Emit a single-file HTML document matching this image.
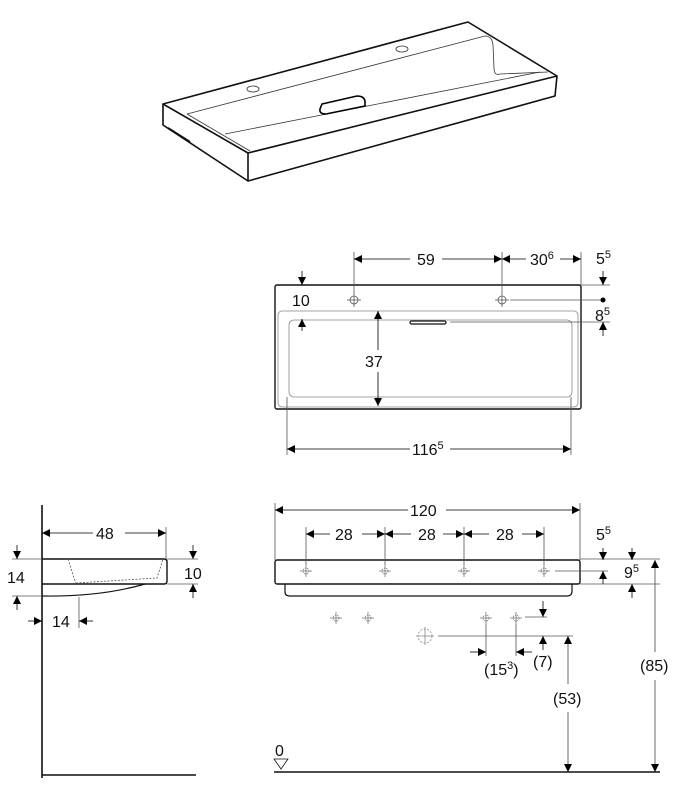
<!DOCTYPE html>
<html><head><meta charset="utf-8"><style>
html,body{margin:0;padding:0;background:#fff;}
svg{display:block;}
text{font-family:"Liberation Sans",Arial,sans-serif;font-size:16px;fill:#111;}
.s{font-size:11px;}
</style></head><body>
<svg width="700" height="800" viewBox="0 0 700 800" xmlns="http://www.w3.org/2000/svg">
<defs>
<marker id="a" viewBox="0 0 10 10" refX="10" refY="5" markerWidth="10" markerHeight="8" markerUnits="userSpaceOnUse" orient="auto-start-reverse"><path d="M0,0L10,5L0,10z" fill="#000"/></marker>
<g id="cr" stroke="#777" stroke-width="0.8" fill="none"><path d="M-6,0H6M0,-6V6"/><circle r="3" stroke-dasharray="1.5,1"/></g>
</defs>

<!-- perspective view -->
<g stroke="#111" fill="none" stroke-width="1.6" stroke-linejoin="round">
<polygon points="163,104 468,22 557,76 248,153"/>
<path d="M163,104V125L248,181V153M248,181L555,96L557,76"/>
<path d="M168,128L190,142" stroke-width="2"/>
</g>
<g stroke="#333" fill="none" stroke-width="0.8">
<path d="M187,114L485,36Q492,36 493,45L494,68Q494,76 500,74L548,72"/>
<path d="M187,114L250,151"/>
<path d="M225,134L540,72"/>
<ellipse cx="253" cy="89" rx="6" ry="3"/><ellipse cx="402" cy="49" rx="6" ry="3"/>
<path d="M322,104L357,96Q364,96 365,101L365,106L326,114Q319,114 320,109Z" stroke="#000" stroke-width="1.6"/>
</g>

<!-- top view -->
<g fill="none">
<rect x="275" y="285" width="306" height="124" rx="2" stroke="#111" stroke-width="1.4"/>
<rect x="278" y="311" width="300" height="96" rx="4" stroke="#888" stroke-width="0.8"/>
<rect x="289" y="320" width="283" height="77" rx="5" stroke="#888" stroke-width="0.8"/>
<rect x="410" y="321" width="36" height="3" rx="1.5" stroke="#111" stroke-width="1.2"/>
<g stroke="#555" stroke-width="0.8">
<circle cx="354" cy="300" r="4"/><circle cx="502" cy="300" r="4"/>
<path d="M347,300H361M354,293V307M495,300H509M502,293V307"/>
<path d="M354,293V252M502,293V252M581,285V252M510,300H603M581,285H610M450,322H610M287,397V455M571,397V455"/>
</g>
<g stroke="#000" stroke-width="0.8">
<path d="M354,259H410M442,259H502" marker-start="url(#a)" marker-end="url(#a)"/>
<path d="M502,259H526M560,259H581" marker-start="url(#a)" marker-end="url(#a)"/>
<path d="M603,271V285" marker-end="url(#a)"/>
<path d="M603,336V322" marker-end="url(#a)"/>
<path d="M302,271V285" marker-end="url(#a)"/>
<path d="M302,331V319" marker-end="url(#a)"/>
<path d="M378,311V350M378,372V406" marker-start="url(#a)" marker-end="url(#a)"/>
<path d="M287,449H410M450,449H571" marker-start="url(#a)" marker-end="url(#a)"/>
</g>
<circle cx="603" cy="300" r="2.5" fill="#000"/>
</g>
<text x="417" y="265">59</text>
<text x="530" y="265">30<tspan class="s" dy="-6">6</tspan></text>
<text x="596" y="264">5<tspan class="s" dy="-6">5</tspan></text>
<text x="595" y="321">8<tspan class="s" dy="-6">5</tspan></text>
<text x="292" y="306">10</text>
<text x="365" y="367">37</text>
<text x="412" y="455">116<tspan class="s" dy="-6">5</tspan></text>

<!-- front view -->
<g fill="none">
<rect x="275" y="560" width="305" height="24" rx="2" stroke="#111" stroke-width="1.4"/>
<path d="M285,584V592Q285,596 290,596H567Q572,596 572,591V584" stroke="#111" stroke-width="1.2"/>
<use href="#cr" x="306" y="571"/><use href="#cr" x="385" y="571"/><use href="#cr" x="464" y="571"/><use href="#cr" x="544" y="571"/>
<use href="#cr" x="336" y="618"/><use href="#cr" x="368" y="618"/><use href="#cr" x="486" y="618"/><use href="#cr" x="516" y="618"/>
<g stroke="#888" stroke-width="0.8"><path d="M416,636H434M425,627V645"/><circle cx="425" cy="636" r="7" stroke-dasharray="2,1.5"/></g>
<g stroke="#555" stroke-width="0.8">
<path d="M275,503V560M580,503V560M306,527V565M385,527V565M464,527V565M544,527V565"/>
<path d="M580,559H660M555,571H608M580,584H660M525,617H547M438,636H573M486,624V656M516,624V656"/>
</g>
<g stroke="#000" stroke-width="0.8">
<path d="M275,510H408M446,510H580" marker-start="url(#a)" marker-end="url(#a)"/>
<path d="M306,534H330M362,534H385" marker-start="url(#a)" marker-end="url(#a)"/>
<path d="M385,534H411M443,534H464" marker-start="url(#a)" marker-end="url(#a)"/>
<path d="M464,534H489M522,534H544" marker-start="url(#a)" marker-end="url(#a)"/>
<path d="M603,548V560" marker-end="url(#a)"/>
<path d="M632,548V560" marker-end="url(#a)"/>
<path d="M603,584V571" marker-end="url(#a)"/>
<path d="M632,598V584" marker-end="url(#a)"/>
<path d="M543,601V617" marker-end="url(#a)"/>
<path d="M543,650V636" marker-end="url(#a)"/>
<path d="M470,652H486" marker-end="url(#a)"/>
<path d="M532,652H516" marker-end="url(#a)"/>
<path d="M655,560V652M655,680V772" marker-start="url(#a)" marker-end="url(#a)" stroke="#444"/>
<path d="M568,636V684M568,712V772" marker-start="url(#a)" marker-end="url(#a)" stroke="#444"/>
</g>
<path d="M274,772H660" stroke="#111" stroke-width="1.6"/>
<path d="M274,759H288L281,769Z" stroke="#111" stroke-width="0.8"/>
</g>
<text x="410" y="516">120</text>
<text x="335" y="540">28</text>
<text x="418" y="540">28</text>
<text x="496" y="540">28</text>
<text x="596" y="540">5<tspan class="s" dy="-6">5</tspan></text>
<text x="624" y="578">9<tspan class="s" dy="-6">5</tspan></text>
<text x="533" y="667">(7)</text>
<text x="484" y="675">(15<tspan class="s" dy="-6">3</tspan><tspan dy="6">)</tspan></text>
<text x="553" y="704">(53)</text>
<text x="640" y="671">(85)</text>
<text x="275" y="756">0</text>

<!-- side view -->
<g fill="none">
<path d="M42,505V778M42,775H196" stroke="#111" stroke-width="1.6"/>
<path d="M42,559H164Q167,559 167,562V581Q167,584 164,584H42" stroke="#111" stroke-width="1.4"/>
<path d="M42,596Q100,597 145,584" stroke="#111" stroke-width="1.2"/>
<path d="M68,559L76,584M76,583L157,578L163,559" stroke="#555" stroke-width="0.8" stroke-dasharray="2,1.5"/>
<g stroke="#555" stroke-width="0.8">
<path d="M166,527V559M12,559H42M12,596H42M167,559H198M167,584H198M79,597V628"/>
</g>
<g stroke="#000" stroke-width="0.8">
<path d="M42,533H93M125,533H166" marker-start="url(#a)" marker-end="url(#a)"/>
<path d="M17,545V559" marker-end="url(#a)"/>
<path d="M17,610V596" marker-end="url(#a)"/>
<path d="M193,545V559" marker-end="url(#a)"/>
<path d="M193,598V584" marker-end="url(#a)"/>
<path d="M28,621H42" marker-end="url(#a)"/>
<path d="M93,621H79" marker-end="url(#a)"/>
</g>
</g>
<text x="96" y="539">48</text>
<text x="7" y="583">14</text>
<text x="184" y="579">10</text>
<text x="52" y="627">14</text>
</svg>
</body></html>
